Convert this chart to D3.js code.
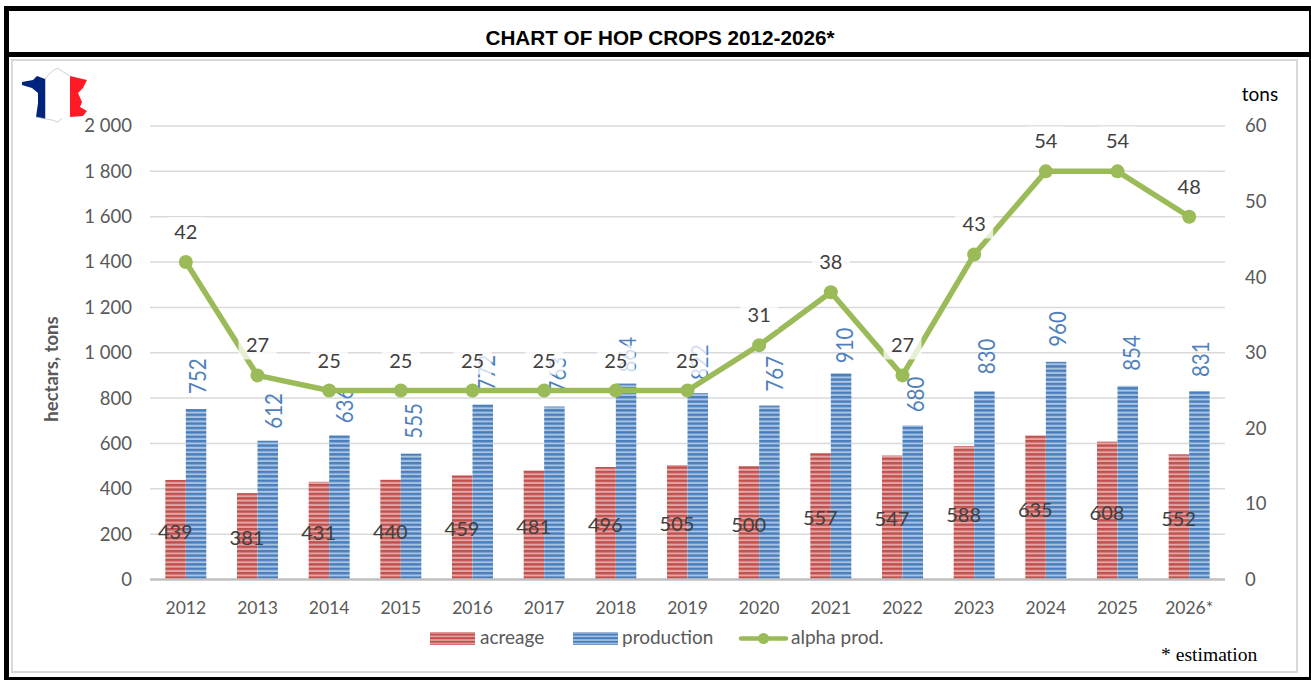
<!DOCTYPE html>
<html><head><meta charset="utf-8">
<script src="https://cdn.jsdelivr.net/npm/d3@7"></script>
<style>html,body{margin:0;padding:0;background:#fff;overflow:hidden}svg{display:block}text{font-family:Lato,"Open Sans",sans-serif}</style>
</head><body><svg id="c" width="1311" height="680"></svg>
<script>
const years=["2012","2013","2014","2015","2016","2017","2018","2019","2020","2021","2022","2023","2024","2025","2026*"];
const acreage=[439,381,431,440,459,481,496,505,500,557,547,588,635,608,552];
const production=[752,612,636,555,772,763,864,822,767,910,680,830,960,854,831];
const alphaProd=[42,27,25,25,25,25,25,25,31,38,27,43,54,54,48];
const leftTicks=[0,200,400,600,800,1000,1200,1400,1600,1800,2000];
const rightTicks=[0,10,20,30,40,50,60];
// hand-placed nudges of the production labels, as in the source chart
const prodLabelGap=[15,12,12,15,14,14,11,13,14,10,13,17,15,15,14];
const prodLabelNudge=[0,4,3,1,2,1,0,0,3,2,1,0,0,2,-1];
const svg=d3.select("#c");
const M={l:150,r:1225,t:126,b:579.5};
const x=d3.scaleBand().domain(years).range([M.l,M.r]);
const xs=d3.scaleBand().domain(["a","p"]).range([0,41]);
const xOff=(x.bandwidth()-41)/2;
const yL=d3.scaleLinear().domain([0,2000]).range([M.b,M.t]);
const yR=d3.scaleLinear().domain([0,60]).range([M.b,M.t]);
const fmt=v=>d3.format(",")(v).replace(","," ");
const defs=svg.append("defs");
function stripes(id,bg,fg,h,w){
  const p=defs.append("pattern").attr("id",id).attr("patternUnits","userSpaceOnUse").attr("width",8).attr("height",h);
  p.append("rect").attr("width",8).attr("height",h).attr("fill",bg);
  p.append("rect").attr("y",0).attr("width",8).attr("height",w).attr("fill",fg);
}
stripes("pa","#e3a6a5","#c0504d",4.4,2.4);
stripes("pb","#a9c3e3","#4a7ebb",4.4,2.4);
stripes("la","#e3a6a5","#c0504d",3.6,2);
stripes("lb","#a9c3e3","#4a7ebb",3.6,2);

// frame
const black=[[4,6,1307,5],[4,52,1307,5],[4,677,1307,3],[4,6,5,674],[1309,6,2,674]];
svg.append("g").selectAll("rect").data(black).join("rect").attr("x",d=>d[0]).attr("y",d=>d[1]).attr("width",d=>d[2]).attr("height",d=>d[3]).attr("fill","#000");
svg.append("rect").attr("x",12).attr("y",60).attr("width",1285).attr("height",612).attr("fill","none").attr("stroke","#d9d9d9").attr("stroke-width",2);
svg.append("text").attr("x",660).attr("y",45).attr("text-anchor","middle").attr("font-size",20.7).attr("font-weight",700).attr("fill","#000")
  .style("font-family","Liberation Sans").text("CHART OF HOP CROPS 2012-2026*");

// flag
const fr=[[22,82],[33,80],[37,76],[45,79],[50,73],[57,68],[70,76],[87,80],[83,88],[78,93],[82,102],[80,107],[87,111],[83,116],[70,117],[62,118],[58,122],[52,120],[46,119],[36,117],[38,103],[38,93],[32,88],[22,85]];
const line2=d3.line();
defs.append("clipPath").attr("id","fr").append("path").attr("d",line2(fr)+"Z");
const flag=svg.append("g").attr("clip-path","url(#fr)");
flag.append("rect").attr("x",20).attr("y",66).attr("width",25.5).attr("height",58).attr("fill","#00247d");
flag.append("rect").attr("x",45.5).attr("y",66).attr("width",24.5).attr("height",58).attr("fill","#fff");
flag.append("rect").attr("x",70).attr("y",66).attr("width",20).attr("height",58).attr("fill","#ff1a25");
svg.append("path").attr("d",line2(fr.slice(3,7))).attr("fill","none").attr("stroke","#bbb").attr("stroke-width",.7);
svg.append("path").attr("d",line2(fr.slice(15,20))).attr("fill","none").attr("stroke","#bbb").attr("stroke-width",.7);

// grid
svg.append("g").selectAll("line").data(leftTicks.filter(d=>d>0)).join("line")
  .attr("x1",M.l).attr("x2",M.r).attr("y1",d=>yL(d)).attr("y2",d=>yL(d)).attr("stroke","#d9d9d9").attr("stroke-width",1.5);

// axes
const axL=svg.append("g").attr("transform",`translate(${M.l},0)`).call(d3.axisLeft(yL).tickValues(leftTicks).tickFormat(fmt).tickSize(0).tickPadding(18));
const axR=svg.append("g").attr("transform",`translate(${M.r},0)`).call(d3.axisRight(yR).tickValues(rightTicks).tickSize(0).tickPadding(20));
const axB=svg.append("g").attr("transform",`translate(0,${M.b})`).call(d3.axisBottom(x).tickSize(0).tickPadding(22.5));
[axL,axR,axB].forEach(a=>{a.select(".domain").remove();a.selectAll("text").attr("font-size",18.5).attr("fill","#595959").style("font-family","Lato");});
axB.selectAll("text").attr("font-size",17.5);

// bars
const bars=svg.append("g");
bars.selectAll(".a").data(years).join("rect").attr("class","a")
  .attr("x",d=>x(d)+xOff+xs("a")).attr("width",xs.bandwidth()).attr("y",(d,i)=>yL(acreage[i])).attr("height",(d,i)=>M.b-yL(acreage[i])).attr("fill","url(#pa)");
bars.selectAll(".p").data(years).join("rect").attr("class","p")
  .attr("x",d=>x(d)+xOff+xs("p")).attr("width",xs.bandwidth()).attr("y",(d,i)=>yL(production[i])).attr("height",(d,i)=>M.b-yL(production[i])).attr("fill","url(#pb)");
svg.append("line").attr("x1",M.l).attr("x2",M.r).attr("y1",M.b).attr("y2",M.b).attr("stroke","#bfbfbf").attr("stroke-width",2.5);

// production labels (baseline sits at the bar's right edge plus a nudge)
svg.append("g").selectAll("text").data(years).join("text")
  .attr("transform",(d,i)=>`translate(${x(d)+xOff+xs("p")+xs.bandwidth()+prodLabelNudge[i]},${yL(production[i])-prodLabelGap[i]}) rotate(-90) scale(1,1.15)`)
  .attr("font-size",20.5).attr("fill","#4f81bd").text((d,i)=>production[i]);

// line
const cx=d=>x(d)+x.bandwidth()/2;
const ln=d3.line().x(d=>cx(d)).y((d,i)=>yR(alphaProd[i]));
svg.append("path").attr("d",ln(years)).attr("fill","none").attr("stroke","#9bbb59").attr("stroke-width",5.5).attr("stroke-linejoin","round");
svg.append("g").selectAll("circle").data(years).join("circle").attr("cx",cx).attr("cy",(d,i)=>yR(alphaProd[i])).attr("r",7).attr("fill","#9bbb59");

// alpha labels with translucent white plate
const aG=svg.append("g").selectAll("g").data(years).join("g").attr("transform",(d,i)=>`translate(${cx(d)},${yR(alphaProd[i])-30})`);
aG.append("rect").attr("x",-19).attr("y",-15).attr("width",38).attr("height",29).attr("fill","#fff").attr("fill-opacity",.75);
aG.append("text").attr("text-anchor","middle").attr("y",7).attr("font-size",20).attr("fill","#404040").text((d,i)=>alphaProd[i]);

// acreage labels
svg.append("g").selectAll("text").data(years).join("text")
  .attr("x",d=>cx(d)-10.5).attr("y",(d,i)=>yL(acreage[i]/2)+9).attr("text-anchor","middle").attr("font-size",20).attr("fill","#404040").text((d,i)=>acreage[i]);

// axis titles
svg.append("text").attr("transform","translate(58,369) rotate(-90)").attr("text-anchor","middle").attr("font-size",18.5).attr("font-weight",700).attr("fill","#595959").text("hectars, tons");
svg.append("text").attr("x",1260).attr("y",101).attr("text-anchor","middle").attr("font-size",19).attr("fill","#000").text("tons");
svg.append("text").attr("x",1161).attr("y",661).attr("fill","#000").style("font-family","Liberation Serif").style("font-size","19.6px").text("* estimation");

// legend
const lg=svg.append("g");
lg.append("rect").attr("x",430).attr("y",632).attr("width",45).attr("height",13).attr("fill","url(#la)");
lg.append("text").attr("x",480).attr("y",644).attr("font-size",19).attr("fill","#595959").text("acreage");
lg.append("rect").attr("x",573).attr("y",632).attr("width",45).attr("height",13).attr("fill","url(#lb)");
lg.append("text").attr("x",622).attr("y",644).attr("font-size",19).attr("fill","#595959").text("production");
lg.append("line").attr("x1",741).attr("x2",786).attr("y1",638.5).attr("y2",638.5).attr("stroke","#9bbb59").attr("stroke-width",4.5).attr("stroke-linecap","round");
lg.append("circle").attr("cx",763.5).attr("cy",638.5).attr("r",5.5).attr("fill","#9bbb59");
lg.append("text").attr("x",791).attr("y",644).attr("font-size",19).attr("fill","#595959").text("alpha prod.");
</script></body></html>
